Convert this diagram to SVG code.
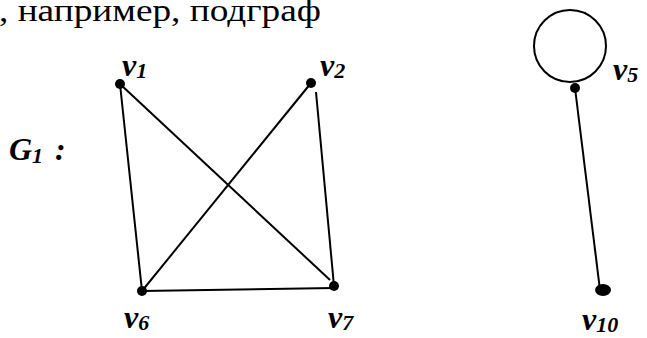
<svg xmlns="http://www.w3.org/2000/svg" width="647" height="338" viewBox="0 0 647 338">
<style>
.lbl{font-family:"Liberation Serif","DejaVu Serif",serif;font-weight:bold;font-style:italic;fill:#000}
.sub{font-size:22px}
.edge{stroke:#000;stroke-width:2;fill:none}
.dot{fill:#000}
</style>
<rect width="647" height="338" fill="#fff"/>
<text x="-1" y="21" font-family="Liberation Serif, DejaVu Serif, serif" font-size="32" textLength="322" lengthAdjust="spacingAndGlyphs" fill="#000">, например, подграф</text>
<text class="lbl" x="9" y="160" font-size="32">G<tspan class="sub" dy="3">1</tspan><tspan dy="-3" dx="12">:</tspan></text>
<g id="edges">
<line class="edge" x1="120" y1="84" x2="142" y2="291"/>
<line class="edge" x1="120" y1="84" x2="330" y2="280"/>
<line class="edge" x1="311" y1="83" x2="142" y2="291"/>
<line class="edge" x1="316" y1="92" x2="334" y2="286"/>
<line class="edge" x1="142" y1="291" x2="334" y2="288"/>
<line class="edge" x1="575" y1="88" x2="600" y2="290"/>
<circle class="edge" cx="570" cy="46" r="36"/>
</g>
<g id="v1"><circle class="dot" cx="120" cy="84" r="5"/><text class="lbl" x="122" y="76" font-size="32">v<tspan class="sub" dy="2">1</tspan></text></g>
<g id="v2"><circle class="dot" cx="311" cy="83" r="5"/><text class="lbl" x="320" y="76" font-size="32">v<tspan class="sub" dy="2">2</tspan></text></g>
<g id="v5"><circle class="dot" cx="575" cy="88" r="5"/><text class="lbl" x="613" y="80" font-size="32">v<tspan class="sub" dy="2">5</tspan></text></g>
<g id="v6"><circle class="dot" cx="142" cy="291" r="5"/><text class="lbl" x="124" y="328" font-size="32">v<tspan class="sub" dy="2">6</tspan></text></g>
<g id="v7"><circle class="dot" cx="334" cy="286" r="5"/><text class="lbl" x="328" y="328" font-size="32">v<tspan class="sub" dy="2">7</tspan></text></g>
<g id="v10"><ellipse class="dot" cx="603" cy="290" rx="8" ry="6"/><text class="lbl" x="582" y="330" font-size="32">v<tspan class="sub" dy="2">10</tspan></text></g>
</svg>
